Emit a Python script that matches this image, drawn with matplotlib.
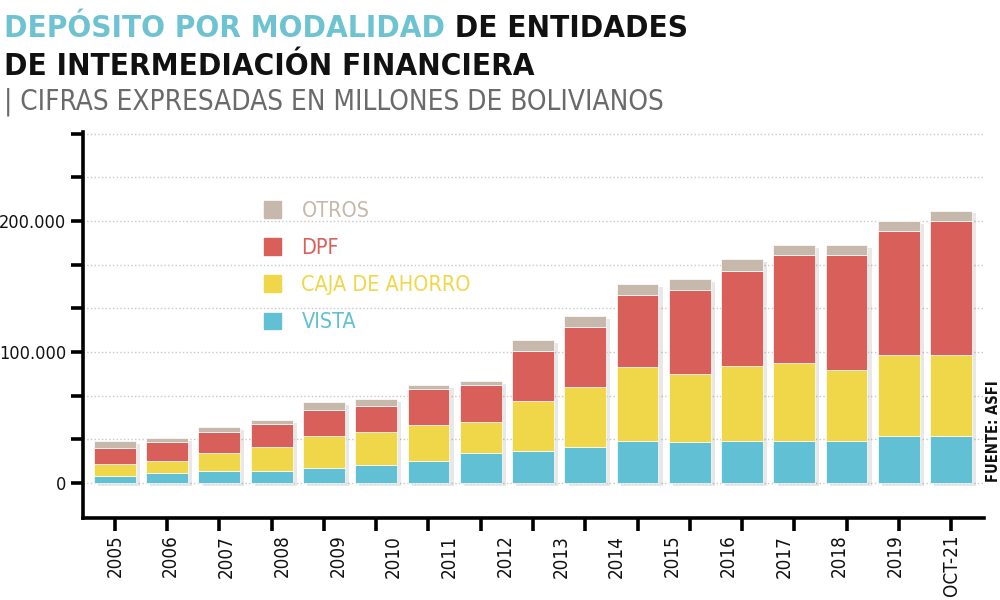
import numpy as np
import matplotlib.pyplot as plt
import matplotlib.patheffects as pe
from matplotlib.patches import Patch

# data (millions of Bs)
# 17 bars in the original, but only 16 labels on the axis
vista = [5100, 7400, 9400, 9400, 11200, 13700, 17000, 22600, 24700, 27700,
         32300, 31500, 31800, 32300, 32300, 36100, 36100]
caja = [9600, 9200, 13200, 18300, 24400, 25000, 27500, 23700, 37700, 45300,
        56000, 51700, 57800, 59600, 54200, 61900, 61900]
dpf = [12000, 14900, 16300, 17300, 20100, 19800, 27300, 28500, 38600, 46300,
       55200, 64100, 72000, 82100, 87500, 94600, 102000]
otros = [5300, 2900, 3800, 2800, 5900, 5600, 3200, 3100, 8200, 8400,
         8400, 8400, 9400, 7700, 7700, 7400, 7900]

labels = ['2005', '2006', '2007', '2008', '2009', '2010', '2011', '2012', '2013',
          '2014', '2015', '2016', '2017', '2018', '2019', 'OCT-21']

series_names = ['VISTA', 'CAJA DE AHORRO', 'DPF', 'OTROS']
colors = ['#62c0d4', '#f0d74a', '#d9605a', '#c6b8aa']

plt.rcParams['font.family'] = 'DejaVu Sans'
cond = dict(family='DejaVu Sans', stretch='condensed')

fig = plt.figure(figsize=(10, 6), dpi=100)
ax = fig.add_axes([0.083, 0.1367, 0.901, 0.6433])

x = np.arange(len(vista))
totals = np.array(vista) + np.array(caja) + np.array(dpf) + np.array(otros)

# soft shadow behind each stack
ax.bar(x, totals, 0.8, color='white', zorder=2,
       path_effects=[pe.SimplePatchShadow(offset=(3, -2), shadow_rgbFace='k', alpha=0.09), pe.Normal()])

bottom = np.zeros(len(x))
for vals, col in zip([vista, caja, dpf, otros], colors):
    ax.bar(x, vals, 0.8, bottom=bottom, color=col, edgecolor='white', linewidth=0.5, zorder=3)
    bottom += np.array(vals)

ax.set_xlim(-0.61, 16.63)
ax.set_ylim(-26700, 268000)

yt = np.arange(9) * 100000 / 3
ax.set_yticks(yt)
ax.set_yticklabels(['0', '', '', '100.000', '', '', '200.000', '', ''], **cond)
ax.grid(axis='y', color='#c8c8c8', linestyle=':', linewidth=1, zorder=0)

ax.xaxis.remove_overlapping_locs = False
ax.set_xticks(x)
ax.set_xticklabels([])
ax.set_xticks(np.linspace(0, 16, len(labels)), minor=True)
ax.set_xticklabels(labels, minor=True, rotation=90, **cond)

for s in ['top', 'right']:
    ax.spines[s].set_visible(False)
for s in ['left', 'bottom']:
    ax.spines[s].set_linewidth(2.6)

ax.tick_params(axis='y', length=9, width=2.6, pad=3, labelsize=13, labelcolor='#111')
ax.tick_params(axis='x', which='major', length=9, width=2.6)
ax.tick_params(axis='x', which='minor', length=0, pad=12, labelsize=13.5, labelcolor='#111')

# legend
handles = [Patch(color=c) for c in colors[::-1]]
fig.legend(handles, series_names[::-1], loc='upper left', bbox_to_anchor=(0.253, 1 - 190 / 600),
           frameon=False, prop=dict(size=15.5, **cond), handlelength=0.8, handleheight=0.8,
           handletextpad=0.95, labelspacing=0.8, borderpad=0, labelcolor=colors[::-1])

# title
t1 = fig.text(0.004, 1 - 37 / 600, 'DEPÓSITO POR MODALIDAD', color='#6ec3d3',
              fontsize=22.5, fontweight='bold', va='baseline', **cond)
ax.annotate(' DE ENTIDADES', xy=(1, 0), xycoords=t1, va='bottom', ha='left',
            fontsize=22.5, fontweight='bold', color='#111', annotation_clip=False, **cond)
fig.text(0.004, 1 - 75 / 600, 'DE INTERMEDIACIÓN FINANCIERA', color='#111',
         fontsize=22.5, fontweight='bold', va='baseline', **cond)
fig.text(0.004, 1 - 110 / 600, '| CIFRAS EXPRESADAS EN MILLONES DE BOLIVIANOS', color='#6a6a6a',
         fontsize=20, va='baseline', **cond)

fig.text(0.994, 1 - 482 / 600, 'FUENTE: ASFI', rotation=90, ha='center', va='bottom',
         fontsize=10.5, fontweight='bold', color='#111', **cond)

fig.savefig('out.png', dpi=100)
